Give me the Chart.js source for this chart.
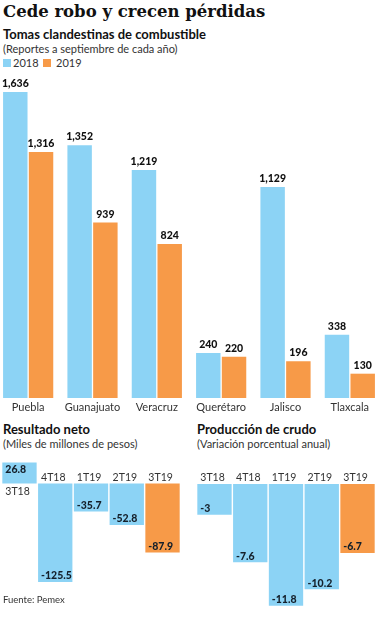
<!DOCTYPE html>
<html>
<head>
<meta charset="utf-8">
<script src="https://cdn.jsdelivr.net/npm/chart.js@4"></script>
<style>
  body { margin: 0; width: 377px; height: 620px; overflow: hidden; background: #fff; position: relative; font-family: Lato, "Noto Sans", sans-serif; color: #222; }
  .t { position: absolute; white-space: nowrap; }
  .title { left: 3px; top: 2px; font: bold 16.5px "DejaVu Serif", serif; color: #111; }
  .sub { font-weight: bold; font-size: 13px; color: #111; }
  .note { font-size: 11px; color: #333; }
  .sq { position: absolute; width: 8px; height: 8px; }
  .box { position: absolute; }
</style>
</head>
<body>
<div class="t title">Cede robo y crecen pérdidas</div>
<div class="t sub" style="left:3px; top:26px;">Tomas clandestinas de combustible</div>
<div class="t note" style="left:3px; top:42px;">(Reportes a septiembre de cada año)</div>
<div class="sq" style="left:3px; top:59px; background:#8cd3f5;"></div>
<div class="t note" style="left:13px; top:56px;">2018</div>
<div class="sq" style="left:43px; top:59px; background:#f79a48;"></div>
<div class="t note" style="left:56px; top:56px;">2019</div>

<div class="box" style="left:-4px; top:70px; width:386px; height:345px;"><canvas id="tomas"></canvas></div>

<div class="t sub" style="left:3px; top:421px;">Resultado neto</div>
<div class="t note" style="left:3px; top:437px;">(Miles de millones de pesos)</div>
<div class="box" style="left:0px; top:456px; width:182px; height:153px;"><canvas id="neto"></canvas></div>

<div class="t sub" style="left:197px; top:421px;">Producción de crudo</div>
<div class="t note" style="left:197px; top:437px;">(Variación porcentual anual)</div>
<div class="box" style="left:195px; top:456px; width:182px; height:159px;"><canvas id="crudo"></canvas></div>

<div class="t note" style="left:3px; top:594px; font-size:9.5px;">Fuente: Pemex</div>

<script>
const estados = ['Puebla', 'Guanajuato', 'Veracruz', 'Querétaro', 'Jalisco', 'Tlaxcala'];
const tomas2018 = [1636, 1352, 1219, 240, 1129, 338];
const tomas2019 = [1316, 939, 824, 220, 196, 130];

const trimestres = ['3T18', '4T18', '1T19', '2T19', '3T19'];
const resultadoNeto = [26.8, -125.5, -35.7, -52.8, -87.9];
const produccionCrudo = [-3, -7.6, -11.8, -10.2, -6.7];

const azul = '#8cd3f5';
const naranja = '#f79a48';

function fmtMiles(v) {
  return v.toLocaleString('en-US');
}

// labels above the bars + state names under the axis
const topLabels = {
  id: 'topLabels',
  afterDatasetsDraw(chart) {
    const ctx = chart.ctx;
    ctx.save();
    ctx.textAlign = 'center';
    ctx.fillStyle = '#111';
    ctx.font = '900 10.5px Lato';
    ctx.textBaseline = 'bottom';
    chart.data.datasets.forEach((ds, i) => {
      chart.getDatasetMeta(i).data.forEach((bar, j) => {
        ctx.fillText(fmtMiles(ds.data[j]), bar.x, bar.y - 3);
      });
    });
    ctx.font = '11px Lato';
    ctx.fillStyle = '#333';
    ctx.textBaseline = 'middle';
    const xs = chart.scales.x;
    chart.data.labels.forEach((l, i) => {
      ctx.fillText(l, xs.getPixelForValue(i), chart.chartArea.bottom + 9);
    });
    ctx.restore();
  }
};

new Chart(document.getElementById('tomas'), {
  type: 'bar',
  data: {
    labels: estados,
    datasets: [
      { label: '2018', data: tomas2018, backgroundColor: azul },
      { label: '2019', data: tomas2019, backgroundColor: naranja }
    ]
  },
  options: {
    responsive: true,
    maintainAspectRatio: false,
    animation: false,
    layout: { padding: { top: 0, bottom: 17, left: 0, right: 0 } },
    datasets: { bar: { barPercentage: 0.95, categoryPercentage: 0.8 } },
    plugins: { legend: { display: false }, tooltip: { enabled: false } },
    scales: {
      x: { display: false },
      y: { display: false, min: 0, max: 1754 }
    }
  },
  plugins: [topLabels]
});

// value inside the bar end, quarter label next to the zero line
const quarterLabels = {
  id: 'quarterLabels',
  afterDatasetsDraw(chart) {
    const ctx = chart.ctx;
    const zero = chart.scales.y.getPixelForValue(0);
    const vals = chart.data.datasets[0].data;
    ctx.save();
    ctx.textAlign = 'left';
    ctx.textBaseline = 'middle';
    chart.getDatasetMeta(0).data.forEach((bar, j) => {
      const left = bar.x - bar.width / 2 + 3;
      const v = vals[j];
      ctx.font = '900 10.5px Lato';
      ctx.fillStyle = '#15202b';
      ctx.fillText(String(v), left, v < 0 ? bar.y - 6 : bar.y + 7);
      ctx.font = '10.5px Lato';
      ctx.fillStyle = '#333';
      ctx.fillText(chart.data.labels[j], left, v < 0 ? zero - 6 : zero + 8);
    });
    ctx.restore();
  }
};

function quarterChart(id, values, min, max) {
  return new Chart(document.getElementById(id), {
    type: 'bar',
    data: {
      labels: trimestres,
      datasets: [{
        data: values,
        backgroundColor: values.map((v, i) => i === values.length - 1 ? naranja : azul)
      }]
    },
    options: {
      responsive: true,
      maintainAspectRatio: false,
      animation: false,
      layout: { padding: { top: 0, bottom: 0, left: 1.6, right: 1.6 } },
      datasets: { bar: { barPercentage: 0.96, categoryPercentage: 1 } },
      plugins: { legend: { display: false }, tooltip: { enabled: false } },
      scales: {
        x: { display: false },
        y: { display: false, min: min, max: max }
      }
    },
    plugins: [quarterLabels]
  });
}

quarterChart('neto', resultadoNeto, -160, 35);
quarterChart('crudo', produccionCrudo, -12.7, 2.7);
</script>
</body>
</html>
